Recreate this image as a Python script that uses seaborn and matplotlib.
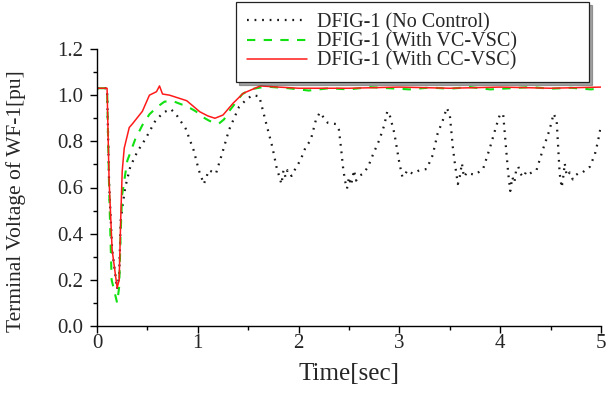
import matplotlib
matplotlib.use("Agg")
import matplotlib.pyplot as plt
import seaborn as sns
import numpy as np

# ---- data ----
series_labels = ["DFIG-1 (No Control)", "DFIG-1 (With VC-VSC)", "DFIG-1 (With CC-VSC)"]

t_nc = [0, 0.10, 0.12, 0.15, 0.20, 0.22, 0.235, 0.25, 0.28, 0.33, 0.40, 0.48, 0.58, 0.66, 0.73, 0.78,
        0.88, 0.96, 1.01, 1.06, 1.11, 1.18, 1.25, 1.31, 1.41, 1.48, 1.54, 1.61, 1.68, 1.74, 1.78, 1.83,
        1.85, 1.87, 1.89, 1.93, 1.96, 2.02, 2.07, 2.12, 2.17, 2.21, 2.29, 2.37, 2.40, 2.42, 2.44, 2.46,
        2.48, 2.50, 2.52, 2.55, 2.57, 2.60, 2.64, 2.69, 2.74, 2.80, 2.85, 2.88, 2.90, 2.95, 3.00, 3.03,
        3.06, 3.08, 3.13, 3.20, 3.27, 3.33, 3.38, 3.43, 3.47, 3.50, 3.53, 3.55, 3.58, 3.60, 3.62, 3.64,
        3.67, 3.70, 3.75, 3.83, 3.90, 3.96, 4.00, 4.03, 4.06, 4.08, 4.10, 4.12, 4.14, 4.16, 4.18, 4.20,
        4.23, 4.26, 4.29, 4.36, 4.42, 4.49, 4.53, 4.56, 4.575, 4.59, 4.61, 4.63, 4.64, 4.66, 4.69, 4.72,
        4.74, 4.77, 4.80, 4.89, 4.94, 4.97, 5.00]
v_nc = [1.03, 1.03, 0.62, 0.33, 0.16, 0.22, 0.455, 0.51, 0.60, 0.69, 0.755, 0.81, 0.89, 0.925, 0.94, 0.92,
        0.855, 0.76, 0.675, 0.615, 0.675, 0.66, 0.76, 0.85, 0.95, 0.98, 1.0, 0.995, 0.875, 0.775, 0.69, 0.615,
        0.675, 0.645, 0.675, 0.65, 0.675, 0.72, 0.775, 0.805, 0.89, 0.925, 0.88, 0.875, 0.85, 0.775, 0.69, 0.63,
        0.595, 0.645, 0.61, 0.675, 0.63, 0.65, 0.66, 0.69, 0.745, 0.805, 0.87, 0.93, 0.92, 0.835, 0.705, 0.645,
        0.66, 0.675, 0.66, 0.675, 0.68, 0.74, 0.835, 0.89, 0.945, 0.915, 0.775, 0.705, 0.615, 0.65, 0.705, 0.645,
        0.665, 0.66, 0.655, 0.68, 0.775, 0.865, 0.92, 0.915, 0.76, 0.66, 0.585, 0.645, 0.62, 0.68, 0.69, 0.66,
        0.645, 0.67, 0.66, 0.675, 0.76, 0.85, 0.92, 0.89, 0.775, 0.66, 0.60, 0.66, 0.705, 0.65, 0.665, 0.635,
        0.65, 0.66, 0.66, 0.69, 0.745, 0.80, 0.87]

t_vc = [0, 0.10, 0.12, 0.145, 0.20, 0.22, 0.235, 0.25, 0.30, 0.38, 0.45, 0.52, 0.60, 0.67, 0.75, 0.82,
        0.90, 0.98, 1.05, 1.11, 1.16, 1.21, 1.26, 1.31, 1.38, 1.44, 1.52, 1.62, 1.71, 1.9, 2.1, 2.3, 2.5,
        2.7, 2.9, 3.1, 3.3, 3.5, 3.7, 3.9, 4.1, 4.3, 4.5, 4.7, 4.9, 5.0]
v_vc = [1.03, 1.03, 0.60, 0.20, 0.10, 0.17, 0.41, 0.57, 0.715, 0.81, 0.87, 0.917, 0.95, 0.972, 0.975, 0.963,
        0.95, 0.93, 0.905, 0.89, 0.88, 0.877, 0.895, 0.93, 0.97, 1.004, 1.025, 1.033, 1.036, 1.03, 1.02, 1.03,
        1.025, 1.035, 1.03, 1.025, 1.033, 1.028, 1.035, 1.025, 1.03, 1.035, 1.028, 1.032, 1.025, 1.03]

t_cc = [0, 0.10, 0.12, 0.15, 0.20, 0.22, 0.235, 0.25, 0.27, 0.32, 0.35, 0.45, 0.52, 0.59, 0.62, 0.65,
        0.72, 0.89, 1.02, 1.10, 1.17, 1.25, 1.35, 1.45, 1.62, 1.80, 2.00, 2.50, 3.00, 3.50, 4.00, 4.50, 5.00]
v_cc = [1.03, 1.03, 0.63, 0.33, 0.165, 0.20, 0.46, 0.67, 0.77, 0.86, 0.875, 0.93, 1.00, 1.015, 1.04, 1.005,
        1.0, 0.976, 0.928, 0.91, 0.90, 0.914, 0.965, 1.008, 1.04, 1.035, 1.03, 1.03, 1.035, 1.03, 1.035, 1.03, 1.035]

x_ticks = [0, 1, 2, 3, 4, 5]
y_ticks = [0.0, 0.2, 0.4, 0.6, 0.8, 1.0, 1.2]

# ---- style ----
sns.set_style("ticks")
plt.rcParams["font.family"] = ["Liberation Serif", "DejaVu Serif"]

fig = plt.figure(figsize=(6.08, 3.94), dpi=100)
ax = fig.add_axes([97 / 608, 1 - 326 / 394, 504 / 608, 277 / 394])

sns.lineplot(x=t_nc, y=v_nc, ax=ax, color="#1a1a1a", lw=1.6, linestyle=(0, (0.8, 2.6)),
             label=series_labels[0], estimator=None, sort=False)
sns.lineplot(x=t_vc, y=v_vc, ax=ax, color="#11e011", lw=1.5, linestyle=(0, (4, 4)),
             label=series_labels[1], estimator=None, sort=False)
sns.lineplot(x=t_cc, y=v_cc, ax=ax, color="#ff1a1a", lw=1.1, linestyle="-",
             label=series_labels[2], estimator=None, sort=False)

ax.set_xlim(0, 5)
ax.set_ylim(0, 1.2)
ax.set_xticks(x_ticks)
ax.set_xticklabels([str(v) for v in x_ticks])
ax.set_yticks(y_ticks)
ax.set_yticklabels([f"{v:.1f}" for v in y_ticks])
ax.set_xticks(np.arange(0.5, 5, 1.0), minor=True)
ax.set_yticks(np.arange(0.1, 1.2, 0.2), minor=True)

for s in ["top", "right"]:
    ax.spines[s].set_visible(False)
for s in ["left", "bottom"]:
    ax.spines[s].set_color("black")
    ax.spines[s].set_linewidth(1.0)

ax.tick_params(axis="both", which="major", direction="out", length=5, width=1.0, color="black")
ax.tick_params(axis="both", which="minor", direction="out", length=3, width=1.0, color="black")
ax.tick_params(axis="x", which="major", labelsize=15, pad=1)
ax.tick_params(axis="y", which="major", labelsize=15, pad=5)

ax.set_xlabel("Time[sec]", fontsize=18, labelpad=7)
ax.set_ylabel("Terminal Voltage of WF-1[pu]", fontsize=15.5)
ax.yaxis.set_label_coords(-0.14, 0.45)

leg = ax.legend(loc="upper left",
                bbox_to_anchor=(236 / 608, 1 - 79 / 394, (589 - 236) / 608, 77 / 394),
                bbox_transform=fig.transFigure, mode="expand", fontsize=14.5, frameon=True,
                fancybox=False, shadow=True, handlelength=3.0, handletextpad=0.45,
                labelspacing=0.0, borderpad=0.55, borderaxespad=0)
leg.get_frame().set_edgecolor("#222222")
leg.get_frame().set_linewidth(0.9)

fig.savefig("out.png", dpi=100)
